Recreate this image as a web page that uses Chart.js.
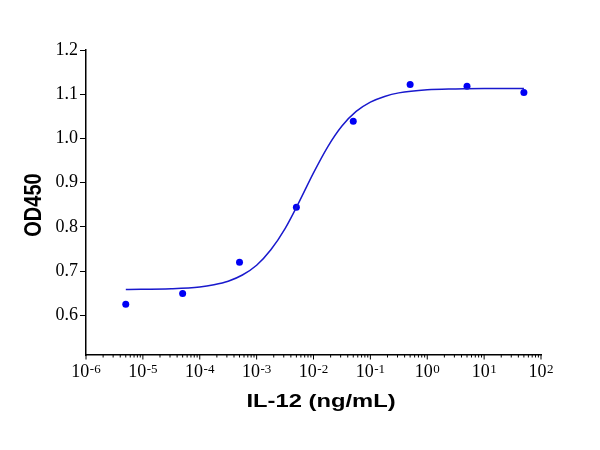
<!DOCTYPE html>
<html>
<head>
<meta charset="utf-8">
<script src="https://cdn.jsdelivr.net/npm/chart.js@4.4.0/dist/chart.umd.min.js"></script>
<style>
  html, body { margin: 0; padding: 0; background: #fff; }
  #wrap { width: 600px; height: 450px; }
</style>
</head>
<body>
<div id="wrap"><canvas id="chart1" width="600" height="450"></canvas></div>
<script>
// measured points (IL-12 ng/mL vs OD450)
var concentrations = [5e-6, 5e-5, 5e-4, 5e-3, 5e-2, 0.5, 5, 50];
var odValues = [0.625, 0.649, 0.720, 0.844, 1.039, 1.122, 1.118, 1.104];

// fitted curve (log10 of concentration, OD)
var curveLog = [-5.3, -4.5, -4.0, -3.75, -3.5, -3.25, -3.0, -2.75, -2.5, -2.25, -2.0, -1.75, -1.5, -1.25, -1.0, -0.75, -0.5, 0, 0.5, 1.0, 1.7];
var curveOD = [0.658, 0.660, 0.664, 0.669, 0.677, 0.691, 0.713, 0.748, 0.796, 0.857, 0.922, 0.981, 1.028, 1.061, 1.082, 1.095, 1.103, 1.110, 1.112, 1.113, 1.113];

// axis ticks
var xDecades = [-6, -5, -4, -3, -2, -1, 0, 1, 2];
var yTicks = [0.6, 0.7, 0.8, 0.9, 1.0, 1.1, 1.2];

var xTitle = 'IL-12 (ng/mL)';
var yTitle = 'OD450';

var pointData = concentrations.map(function (c, i) { return {x: c, y: odValues[i]}; });
var curveData = curveLog.map(function (l, i) { return {x: Math.pow(10, l), y: curveOD[i]}; });

var axisDeco = {
    id: 'axisDeco',
    afterDraw: function (chart) {
        var ctx = chart.ctx;
        var xs = chart.scales.x;
        var area = chart.chartArea;
        ctx.save();
        ctx.strokeStyle = '#000';
        ctx.lineWidth = 1;
        // log ticks on x
        xDecades.forEach(function (d, i) {
            var px = xs.getPixelForValue(Math.pow(10, d));
            ctx.beginPath();
            ctx.moveTo(px, area.bottom);
            ctx.lineTo(px, area.bottom + 4.5);
            ctx.stroke();
            if (i < xDecades.length - 1) {
                for (var k = 2; k <= 9; k++) {
                    var mx = xs.getPixelForValue(k * Math.pow(10, d));
                    ctx.beginPath();
                    ctx.moveTo(mx, area.bottom);
                    ctx.lineTo(mx, area.bottom + 2.5);
                    ctx.stroke();
                }
            }
        });
        // x tick labels 10^n
        ctx.fillStyle = '#000';
        ctx.textBaseline = 'alphabetic';
        ctx.textAlign = 'left';
        xDecades.forEach(function (d) {
            var px = xs.getPixelForValue(Math.pow(10, d));
            ctx.font = "18px 'Liberation Serif'";
            var w1 = ctx.measureText('10').width;
            ctx.font = "13px 'Liberation Serif'";
            var sup = String(d);
            var w2 = ctx.measureText(sup).width;
            var x0 = px - (w1 + 0.5 + w2) / 2;
            ctx.font = "18px 'Liberation Serif'";
            ctx.fillText('10', x0, area.bottom + 22);
            ctx.font = "13px 'Liberation Serif'";
            ctx.fillText(sup, x0 + w1 + 0.5, area.bottom + 17.5);
        });
        // axis titles (the original lettering is slightly widened)
        ctx.font = "bold 19px 'Liberation Sans'";
        ctx.textAlign = 'center';
        ctx.save();
        ctx.translate(321, 406.5);
        ctx.scale(1.25, 1);
        ctx.fillText(xTitle, 0, 0);
        ctx.restore();
        ctx.save();
        ctx.font = "bold 20px 'Liberation Sans'";
        ctx.translate(34.5, 205);
        ctx.scale(1.15, 1);
        ctx.rotate(-Math.PI / 2);
        ctx.textBaseline = 'middle';
        ctx.fillText(yTitle, 0, 0);
        ctx.restore();
        ctx.restore();
    }
};

var ctx1 = document.getElementById('chart1').getContext('2d');
var chart1 = new Chart(ctx1, {
    type: 'scatter',
    data: {
        datasets: [{
            label: 'fit',
            data: curveData,
            showLine: true,
            borderColor: 'rgb(25,25,205)',
            borderWidth: 1.5,
            pointRadius: 0,
            cubicInterpolationMode: 'monotone',
            fill: false
        }, {
            label: 'OD450',
            data: pointData,
            showLine: false,
            backgroundColor: 'rgb(0,0,245)',
            borderColor: 'rgb(0,0,245)',
            pointRadius: 3.5,
            borderWidth: 0
        }]
    },
    plugins: [axisDeco],
    options: {
        responsive: false,
        animation: false,
        layout: { padding: { left: 0, top: 50, right: 59, bottom: 0 } },
        plugins: { legend: { display: false }, tooltip: { enabled: false } },
        scales: {
            x: {
                type: 'logarithmic',
                min: 1e-6,
                max: 100,
                grid: { display: false },
                ticks: { display: false },
                border: { color: '#000', width: 1.5 },
                afterFit: function (scale) { scale.height = 95; }
            },
            y: {
                min: 0.51,
                max: 1.2,
                grid: { display: true, drawOnChartArea: false, tickLength: 6, color: '#000', tickWidth: 1 },
                border: { color: '#000', width: 1.5 },
                ticks: {
                    stepSize: 0.1,
                    includeBounds: false,
                    padding: 2,
                    color: '#000',
                    font: { family: 'Liberation Serif', size: 18 },
                    callback: function (v) { return v.toFixed(1); }
                },
                afterBuildTicks: function (scale) {
                    scale.ticks = yTicks.map(function (v) { return {value: v}; });
                },
                afterFit: function (scale) { scale.width = 86; }
            }
        }
    }
});
</script>
</body>
</html>
